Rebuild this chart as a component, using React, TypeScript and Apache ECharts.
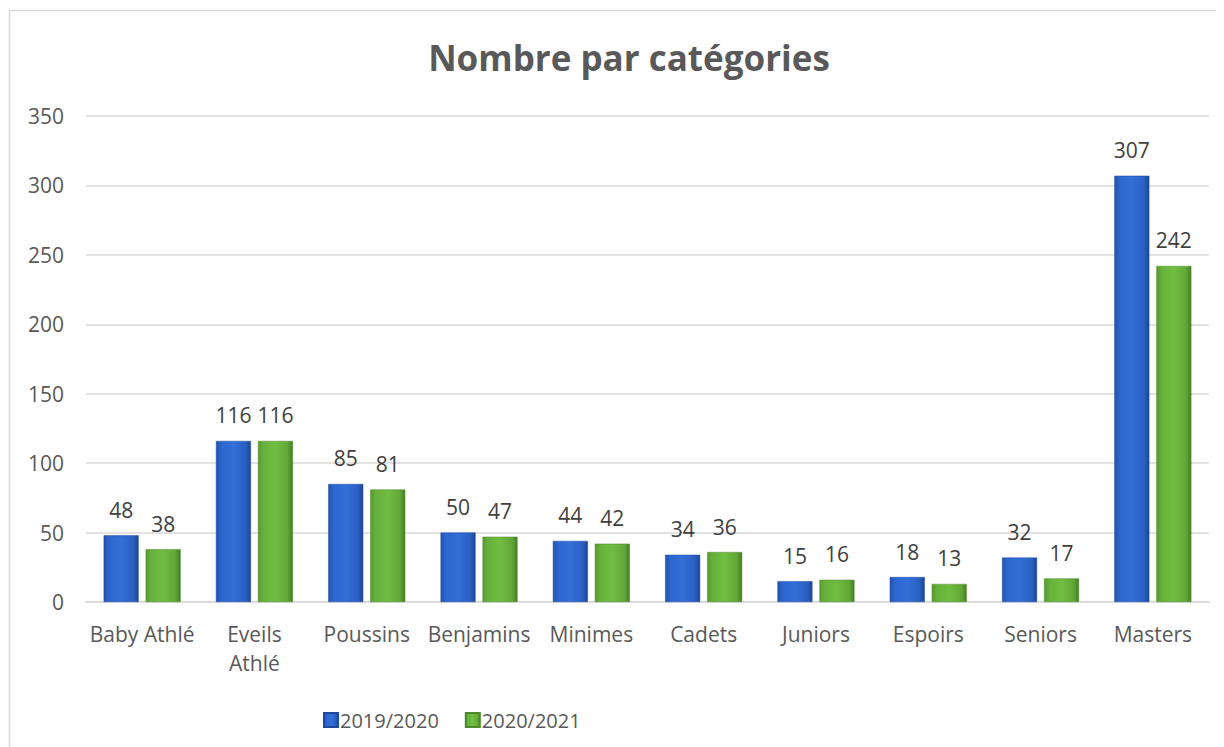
import React, { useEffect, useRef } from "react";
import * as echarts from "echarts";

const categories = ["Baby Athlé", "Eveils Athlé", "Poussins", "Benjamins", "Minimes", "Cadets", "Juniors", "Espoirs", "Seniors", "Masters"];
const series2019 = [48, 116, 85, 50, 44, 34, 15, 18, 32, 307];
const series2020 = [38, 116, 81, 47, 42, 36, 16, 13, 17, 242];
const seriesNames = ["2019/2020", "2020/2021"];
const yTicks = { min: 0, max: 350, interval: 50 };

const FONT = "'Open Sans', 'Noto Sans', sans-serif";

const blueGrad = new echarts.graphic.LinearGradient(0, 0, 1, 0, [
  { offset: 0, color: "#2253B0" },
  { offset: 0.15, color: "#2D66CE" },
  { offset: 0.5, color: "#326FD9" },
  { offset: 0.85, color: "#2B60C3" },
  { offset: 1, color: "#1C4590" },
]);
const greenGrad = new echarts.graphic.LinearGradient(0, 0, 1, 0, [
  { offset: 0, color: "#569A32" },
  { offset: 0.15, color: "#67B13B" },
  { offset: 0.5, color: "#70BD41" },
  { offset: 0.85, color: "#62A737" },
  { offset: 1, color: "#457D24" },
]);

export default function App() {
  const ref = useRef<HTMLDivElement>(null);
  useEffect(() => {
    if (!ref.current) return;
    const chart = echarts.init(ref.current, null, { renderer: "svg" });
    const label = {
      show: true,
      position: "top" as const,
      distance: 15,
      color: "#404040",
      fontSize: 21,
      fontFamily: FONT,
    };
    chart.setOption({
      animation: false,
      backgroundColor: "#ffffff",
      graphic: [
        {
          type: "rect",
          shape: { x: 1.5, y: 2.5, width: 1400, height: 900 },
          style: { fill: "none", stroke: "#D9D9D9", lineWidth: 1.5 },
          silent: true,
          z: -1,
        },
      ],
      title: {
        text: "Nombre par catégories",
        left: 616,
        textAlign: "center",
        top: 27,
        textStyle: { fontFamily: FONT, fontSize: 35, fontWeight: "bold", color: "#595959" },
      },
      legend: {
        left: 310,
        top: 697,
        itemWidth: 14,
        itemHeight: 14,
        itemGap: 26,
        icon: "rect",
        textStyle: { fontFamily: FONT, fontSize: 20, color: "#595959", padding: [0, 0, 0, -3] },
        data: seriesNames,
      },
      grid: { left: 78, right: 15, top: 108, bottom: 145, containLabel: false },
      xAxis: {
        type: "category",
        data: categories,
        axisTick: { show: false },
        axisLine: { lineStyle: { color: "#D9D9D9", width: 1.5 } },
        axisLabel: {
          color: "#595959",
          fontSize: 21,
          fontFamily: FONT,
          margin: 17,
          lineHeight: 29,
          interval: 0,
          formatter: (v: string) => (v === "Eveils Athlé" ? "Eveils\nAthlé" : v),
        },
      },
      yAxis: {
        type: "value",
        min: yTicks.min,
        max: yTicks.max,
        interval: yTicks.interval,
        axisLine: { show: false },
        axisTick: { show: false },
        splitLine: { lineStyle: { color: "#D9D9D9", width: 1.5 } },
        axisLabel: { color: "#595959", fontSize: 21, fontFamily: FONT, margin: 22 },
      },
      series: [
        {
          name: seriesNames[0],
          type: "bar",
          data: series2019,
          barWidth: 35,
          barGap: "20%",
          itemStyle: { color: blueGrad, borderColor: "#1E4A9E", borderWidth: 0.5 },
          label,
        },
        {
          name: seriesNames[1],
          type: "bar",
          data: series2020,
          barWidth: 35,
          itemStyle: { color: greenGrad, borderColor: "#4A8A28", borderWidth: 0.5 },
          label,
        },
      ],
    });
    return () => chart.dispose();
  }, []);
  return <div ref={ref} style={{ width: 1216, height: 739 }} />;
}
